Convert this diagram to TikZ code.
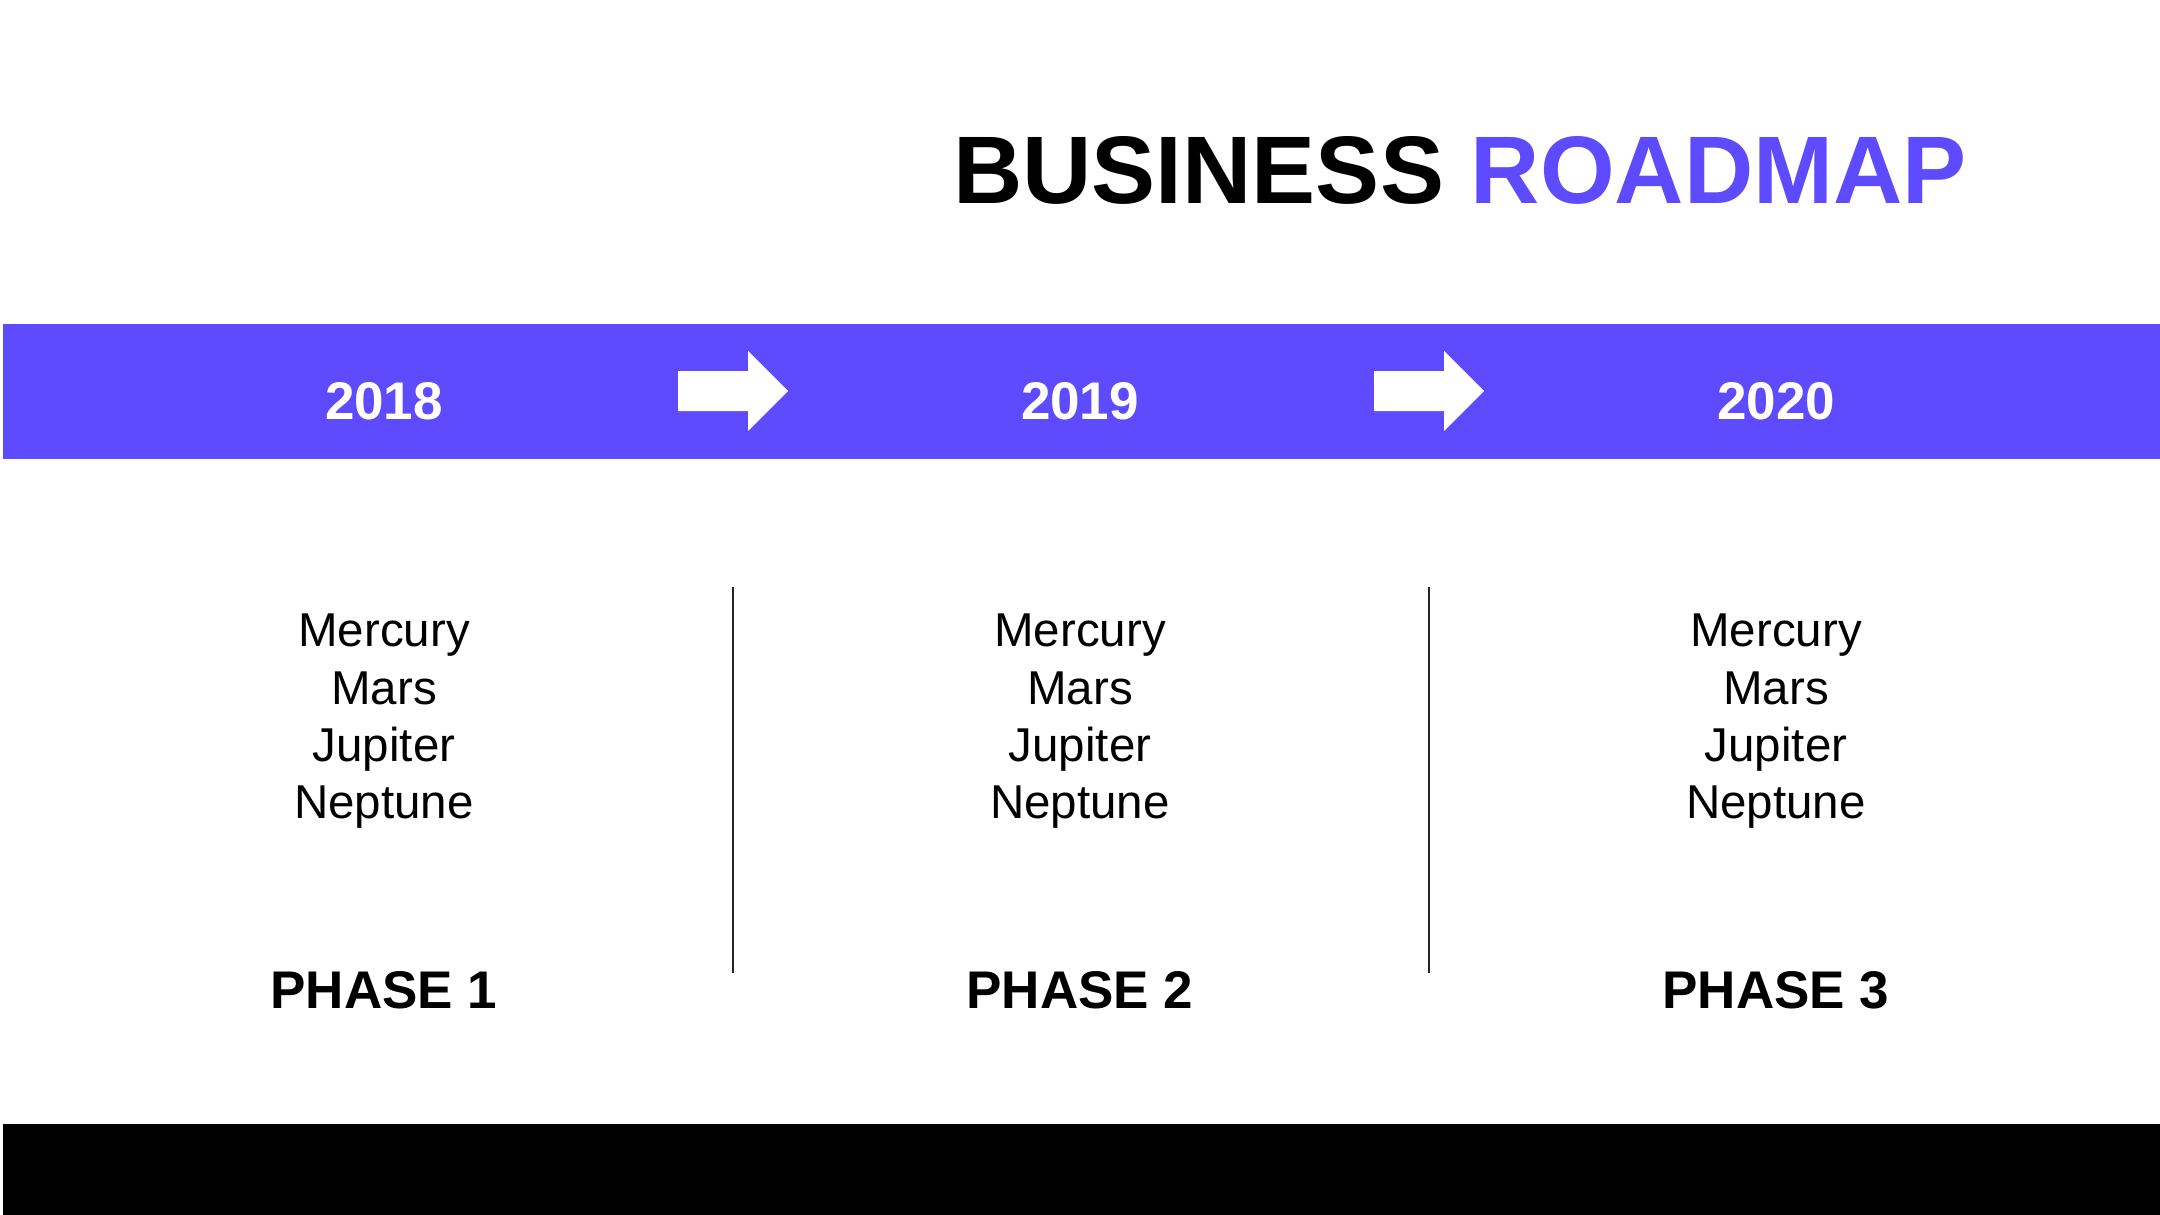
\documentclass[tikz,border=0pt]{standalone}
\usepackage{fontspec}
\setmainfont{Liberation Sans}
\usetikzlibrary{calc}
\definecolor{bandpurple}{RGB}{94,74,255}
\tikzset{
  yeartxt/.style={anchor=base, text=white, font=\bfseries\fontsize{53}{60}\selectfont, inner sep=0pt},
  itemtxt/.style={anchor=base, font=\fontsize{47.5}{57.5}\selectfont, inner sep=0pt},
  phasetxt/.style={anchor=base, font=\bfseries\fontsize{53}{60}\selectfont, inner sep=0pt},
  divider/.style={draw=black!85, line width=2pt},
  whitearrow/.style={fill=white, draw=none}
}
\begin{document}
\begin{tikzpicture}[x=1pt,y=-1pt]
\useasboundingbox (0,0) rectangle (2160,1215);
\fill[white] (0,0) rectangle (2160,1215);
% title
\node[anchor=base, inner sep=0pt, font=\bfseries\fontsize{96}{110}\selectfont] (title) at (1460,203)
  {BUSINESS \textcolor{bandpurple}{ROADMAP}};
% band
\fill[bandpurple] (3,324) rectangle (2160,459);
\node[yeartxt] (y1) at (384,419) {2018};
\node[yeartxt] (y2) at (1080,419) {2019};
\node[yeartxt] (y3) at (1776,419) {2020};
\coordinate (a1) at (733,391);
\coordinate (a2) at (1429,391);
\foreach \a in {a1,a2}{
  \fill[whitearrow] ($(\a)+(-55,-20)$) -- ($(\a)+(15,-20)$) -- ($(\a)+(15,-40)$) -- ($(\a)+(55,0)$)
    -- ($(\a)+(15,40)$) -- ($(\a)+(15,20)$) -- ($(\a)+(-55,20)$) -- cycle;
}
% items
\foreach \cx/\k in {384/1,1080/2,1776/3}{
  \node[itemtxt] (m\k) at (\cx,646) {Mercury};
  \node[itemtxt] (r\k) at (\cx,704) {Mars};
  \node[itemtxt] (j\k) at (\cx,761) {Jupiter};
  \node[itemtxt] (n\k) at (\cx,818) {Neptune};
  \node[phasetxt] (p\k) at (\cx,1008) {PHASE \k};
}
% dividers
\coordinate (d1t) at (733,587); \coordinate (d1b) at (733,973);
\coordinate (d2t) at (1429,587); \coordinate (d2b) at (1429,973);
\draw[divider] (d1t) -- (d1b);
\draw[divider] (d2t) -- (d2b);
% bottom band
\fill[black] (3,1124) rectangle (2160,1215);
\end{tikzpicture}
\end{document}
